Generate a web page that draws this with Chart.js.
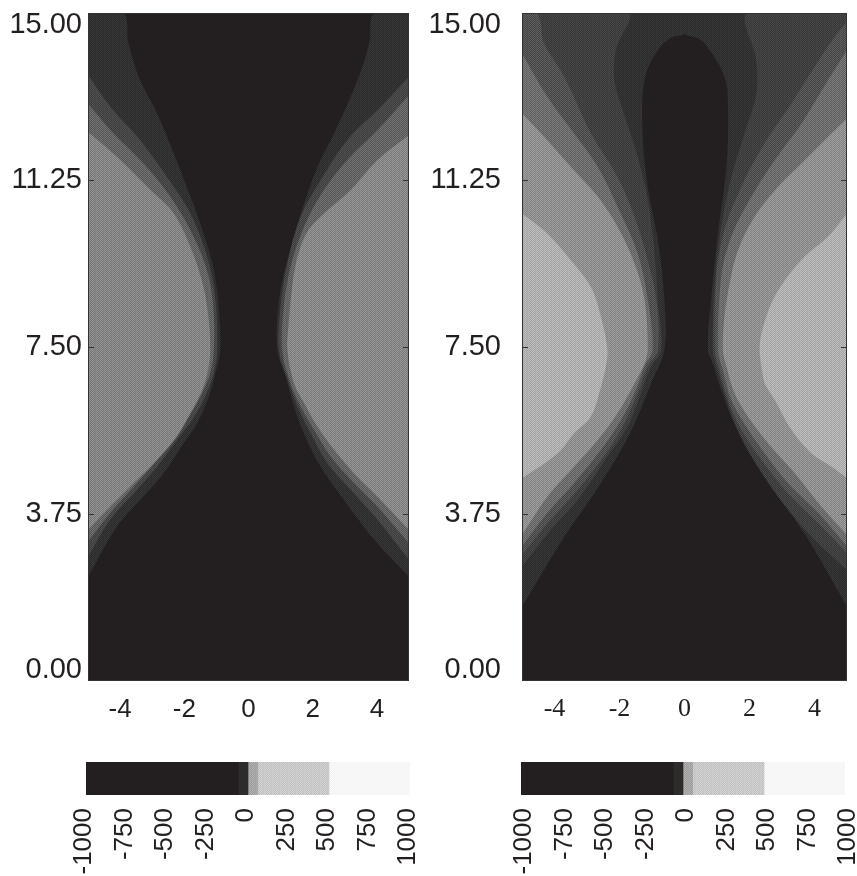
<!DOCTYPE html>
<html>
<head>
<meta charset="utf-8">
<script src="https://cdn.jsdelivr.net/npm/chart.js@4/dist/chart.umd.min.js"></script>
<style>
    body { margin: 0; background: #fff; width: 857px; height: 876px; overflow: hidden; position: relative; }
    canvas { position: absolute; }
</style>
</head>
<body>
<canvas id="panelLeft" width="430" height="740" style="left:0;top:0"></canvas>
<canvas id="panelRight" width="437" height="740" style="left:420px;top:0"></canvas>
<canvas id="barLeft" width="430" height="126" style="left:0;top:750px"></canvas>
<canvas id="barRight" width="437" height="126" style="left:420px;top:750px"></canvas>
<script>
// Axis ticks
const yTicks = [0, 3.75, 7.5, 11.25, 15];
const xTicks = [-4, -2, 0, 2, 4];
const barTicks = [-1000, -750, -500, -250, 0, 250, 500, 750, 1000];

// Left panel contours, each one [x, y] from top to bottom
const leftPanelWestA = [[-5,15],[-3.90,15],[-3.74,14.32],[-3.38,13.50],[-2.85,12.75],[-2.33,11.85],[-1.81,10.88],[-1.40,10.05],[-1.08,9.23],[-0.93,8.41],[-0.88,7.43],[-1.03,6.91],[-1.24,6.38],[-1.60,5.79],[-2.02,5.34],[-2.65,4.66],[-3.38,4.06],[-4.10,3.47],[-5,2.34]];
const leftPanelWestB = [[-5,13.61],[-4.31,12.90],[-3.38,12.15],[-2.54,11.32],[-1.81,10.50],[-1.29,9.53],[-1.03,8.56],[-0.98,7.43],[-1.08,6.91],[-1.40,6.31],[-1.76,5.86],[-2.23,5.41],[-2.85,4.81],[-3.58,4.21],[-4.31,3.62],[-5,2.79]];
const leftPanelWestC = [[-5,12.97],[-4.21,12.30],[-3.27,11.62],[-2.44,10.88],[-1.71,9.98],[-1.24,9.08],[-1.08,8.18],[-1.08,7.43],[-1.19,6.91],[-1.50,6.38],[-1.86,5.94],[-2.33,5.45],[-2.85,4.96],[-3.58,4.36],[-4.31,3.77],[-5,3.13]];
const leftPanelWestD = [[-5,12.33],[-4.10,11.77],[-3.06,11.03],[-2.33,10.50],[-1.81,9.75],[-1.40,8.85],[-1.24,8.11],[-1.19,7.43],[-1.24,7.06],[-1.40,6.61],[-1.81,6.01],[-2.23,5.49],[-2.85,4.96],[-3.58,4.44],[-4.31,3.91],[-5,3.39]];
const leftPanelEastA = [[5,15],[3.92,15],[3.76,14.32],[3.40,13.50],[2.67,12.30],[2.15,11.55],[1.63,10.50],[1.21,9.45],[0.95,8.56],[0.90,7.43],[1.16,6.83],[1.42,6.16],[1.73,5.56],[2.25,4.81],[2.98,4.06],[3.92,3.17],[5,2.34]];
const leftPanelEastB = [[5,13.57],[4.02,12.82],[3.08,12.15],[2.25,11.25],[1.63,10.43],[1.21,9.38],[1.00,8.41],[0.95,7.43],[1.26,6.68],[1.57,6.09],[1.94,5.56],[2.46,4.89],[3.19,4.29],[4.02,3.62],[5,2.72]];
const leftPanelEastC = [[5,13.16],[4.02,12.37],[3.08,11.70],[2.35,11.03],[1.73,10.20],[1.31,9.30],[1.10,8.41],[1.05,7.43],[1.31,6.68],[1.63,6.16],[2.04,5.64],[2.56,5.04],[3.29,4.44],[4.02,3.91],[5,3.09]];
const leftPanelEastD = [[5,12.26],[4.02,11.70],[3.19,11.03],[2.25,10.43],[1.80,10.05],[1.50,9.45],[1.36,8.85],[1.26,8.11],[1.21,7.43],[1.42,6.68],[1.73,6.24],[2.15,5.71],[2.67,5.19],[3.29,4.66],[4.02,4.14],[5,3.39]];

// Right panel contours
const rightPanelWestA = [[0,15],[0,14.54],[-0.40,14.45],[-0.82,14.17],[-1.23,13.50],[-1.29,12.30],[-1.13,11.10],[-0.82,9.90],[-0.62,8.56],[-0.62,7.43],[-1.03,6.68],[-1.44,5.94],[-1.95,5.19],[-2.78,4.21],[-3.70,3.24],[-5,1.67]];
const rightPanelEastA = [[0,15],[0,14.54],[0.35,14.45],[0.62,14.32],[1.23,13.57],[1.34,12.82],[1.29,11.55],[1.03,10.05],[0.82,8.56],[0.72,7.43],[0.87,7.13],[1.13,6.53],[1.44,5.94],[1.95,5.19],[2.78,4.29],[3.81,3.17],[5,1.67]];
const rightPanelWestB = [[-5,15],[-1.75,15],[-2.11,14.17],[-2.16,13.50],[-1.90,12.82],[-1.44,11.77],[-1.13,10.80],[-0.93,9.68],[-0.82,8.56],[-0.72,7.43],[-1.03,7.06],[-1.34,6.46],[-1.75,5.71],[-2.37,5.04],[-3.29,4.06],[-4.12,3.39],[-5,2.57]];
const rightPanelEastB = [[5,15],[1.95,15],[2.21,13.94],[2.21,13.19],[1.85,12.30],[1.44,11.32],[1.13,10.20],[0.93,8.93],[0.87,7.43],[0.98,7.06],[1.23,6.46],[1.54,5.79],[2.06,5.04],[2.88,4.14],[3.81,3.32],[5,2.49]];
const rightPanelWestC = [[-5,15],[-4.53,15],[-4.32,14.32],[-3.70,13.57],[-2.88,12.30],[-2.06,11.32],[-1.54,10.43],[-1.13,9.45],[-0.87,8.56],[-0.82,7.43],[-1.13,7.06],[-1.44,6.46],[-1.85,5.79],[-2.42,5.11],[-3.29,4.29],[-4.12,3.62],[-5,2.83]];
const rightPanelEastC = [[5,14.81],[4.63,14.47],[4.01,13.80],[3.29,12.97],[2.47,12.08],[1.75,11.10],[1.23,10.13],[0.98,9.08],[0.93,7.43],[1.08,6.98],[1.34,6.31],[1.75,5.64],[2.37,4.96],[3.19,4.21],[4.12,3.54],[5,2.87]];
const rightPanelWestD = [[-5,14.09],[-4.22,13.12],[-3.40,12.30],[-2.67,11.55],[-2.06,10.65],[-1.44,9.60],[-1.13,8.56],[-0.98,7.43],[-1.23,7.06],[-1.54,6.46],[-1.95,5.86],[-2.57,5.19],[-3.40,4.44],[-4.22,3.77],[-5,3.02]];
const rightPanelEastD = [[5,14.17],[4.42,13.50],[3.60,12.52],[2.78,11.70],[2.06,10.88],[1.44,9.98],[1.13,9.08],[1.03,7.43],[1.18,6.98],[1.44,6.31],[1.90,5.71],[2.47,5.11],[3.19,4.44],[4.12,3.77],[5,3.02]];
const rightPanelWestE = [[-5,12.75],[-4.32,12.22],[-3.50,11.55],[-2.67,10.88],[-2.06,10.20],[-1.54,9.38],[-1.23,8.56],[-1.13,7.43],[-1.23,7.13],[-1.54,6.68],[-2.06,6.01],[-2.67,5.41],[-3.40,4.81],[-4.22,4.14],[-5,3.28]];
const rightPanelEastE = [[5,12.63],[4.32,12.15],[3.60,11.62],[2.88,11.10],[2.16,10.43],[1.65,9.68],[1.39,8.93],[1.23,8.18],[1.18,7.43],[1.29,7.06],[1.54,6.46],[1.95,5.94],[2.57,5.34],[3.40,4.66],[4.22,3.91],[5,3.28]];
const rightPanelWestF = [[-5,10.50],[-4.22,10.05],[-3.50,9.45],[-2.88,8.85],[-2.57,8.18],[-2.37,7.43],[-2.42,7.06],[-2.57,6.61],[-2.88,5.94],[-3.40,5.56],[-3.91,5.11],[-5,4.55]];
const rightPanelEastF = [[5,10.50],[4.42,9.98],[3.70,9.53],[3.09,9.00],[2.67,8.48],[2.37,7.81],[2.31,7.43],[2.37,7.06],[2.47,6.68],[2.78,6.31],[3.29,5.64],[3.91,5.11],[4.53,4.81],[5,4.55]];

// Colour bar bands
const barBands = [[-1000, -60], [-60, 0], [0, 60], [60, 500], [500, 1000]];

const darkInk = '#231f20';
const textColor = '#231f20';

// Trama fina como la del original escaneado
function halftone(gray, c) {
    const tile = document.createElement('canvas');
    tile.width = 4;
    tile.height = 2;
    const t = tile.getContext('2d');
    const rows = [[c, -c, c / 2, -c], [-c, c, -c, c / 2]];
    rows.forEach((row, j) => row.forEach((d, i) => {
        const g = Math.max(0, Math.min(255, Math.round(gray + d)));
        t.fillStyle = 'rgb(' + g + ',' + g + ',' + g + ')';
        t.fillRect(i, j, 1, 1);
    }));
    return t.createPattern(tile, 'repeat');
}

function contour(pairs, color, side) {
    return {
        data: pairs.map(p => ({ x: p[0], y: p[1] })),
        backgroundColor: color,
        borderWidth: 0,
        pointRadius: 0,
        tension: 0.35,
        fill: { value: side }
    };
}

// Las etiquetas no deben empujar el area del grafico
function noTickPadding(s) {
    s.paddingTop = 0;
    s.paddingBottom = 0;
    s.paddingLeft = 0;
    s.paddingRight = 0;
}

// Fondo oscuro, marco y marcas hacia adentro
const framePlugin = {
    id: 'frame',
    beforeDatasetsDraw(chart) {
        const a = chart.chartArea;
        chart.ctx.fillStyle = darkInk;
        chart.ctx.fillRect(a.left, a.top, a.width, a.height);
    },
    afterDatasetsDraw(chart) {
        const a = chart.chartArea;
        const ctx = chart.ctx;
        ctx.save();
        ctx.strokeStyle = '#333';
        ctx.lineWidth = 1;
        ctx.strokeRect(a.left + 0.5, a.top + 0.5, a.width - 1, a.height - 1);
        yTicks.slice(1, -1).forEach(v => {
            const y = Math.round(chart.scales.y.getPixelForValue(v)) + 0.5;
            ctx.beginPath();
            ctx.moveTo(a.left, y);
            ctx.lineTo(a.left + 6, y);
            ctx.moveTo(a.right - 6, y);
            ctx.lineTo(a.right, y);
            ctx.stroke();
        });
        ctx.restore();
    }
};

function makePanel(id, datasets, yWidth, rightPad, yPad, xFont) {
    new Chart(document.getElementById(id), {
        type: 'line',
        data: { datasets: datasets },
        plugins: [framePlugin],
        options: {
            responsive: false,
            animation: false,
            indexAxis: 'y',
            layout: { padding: { top: 13, right: rightPad } },
            plugins: { legend: { display: false }, tooltip: { enabled: false } },
            scales: {
                x: {
                    type: 'linear',
                    min: -5,
                    max: 5,
                    afterFit: s => { s.height = 59; noTickPadding(s); },
                    afterBuildTicks: s => { s.ticks = xTicks.map(v => ({ value: v })); },
                    grid: { display: false, drawTicks: false },
                    border: { display: false },
                    ticks: { color: textColor, font: xFont, padding: 13, maxRotation: 0, autoSkip: false }
                },
                y: {
                    type: 'linear',
                    min: 0,
                    max: 15,
                    afterFit: s => { s.width = yWidth; noTickPadding(s); },
                    afterBuildTicks: s => { s.ticks = yTicks.map(v => ({ value: v })); },
                    grid: { display: false, drawTicks: false },
                    border: { display: false },
                    ticks: {
                        color: textColor,
                        padding: yPad,
                        autoSkip: false,
                        font: c => ({ family: 'Liberation Sans', size: 29, lineHeight: c.index === 0 ? '22px' : '24px' }),
                        // las etiquetas extremas quedan metidas hacia dentro
                        callback: function (v) {
                            const txt = Number(v).toFixed(2);
                            if (v === 15) return ['', txt];
                            if (v === 0) return [txt, ''];
                            return txt;
                        }
                    }
                }
            }
        }
    });
}

function makeBar(id, yWidth, rightPad, labelOffset) {
    const barColors = [darkInk, '#2e2b2b', halftone(168, 12), halftone(203, 12), halftone(247, 4)];
    new Chart(document.getElementById(id), {
        type: 'bar',
        data: {
            labels: [''],
            datasets: barBands.map((b, i) => ({ data: [b], backgroundColor: barColors[i], barPercentage: 1, categoryPercentage: 1, grouped: false }))
        },
        options: {
            responsive: false,
            animation: false,
            indexAxis: 'y',
            layout: { padding: { top: 12, right: rightPad } },
            plugins: { legend: { display: false }, tooltip: { enabled: false } },
            scales: {
                x: {
                    type: 'linear',
                    min: -1000,
                    max: 1000,
                    afterFit: s => { s.height = 81; noTickPadding(s); },
                    afterBuildTicks: s => { s.ticks = barTicks.map(v => ({ value: v })); },
                    grid: { display: false, drawTicks: false },
                    border: { display: false },
                    ticks: {
                        color: textColor,
                        font: { family: 'Liberation Sans', size: 26 },
                        padding: 13,
                        labelOffset: labelOffset,
                        minRotation: 90,
                        maxRotation: 90,
                        autoSkip: false,
                        callback: v => String(v)
                    }
                },
                y: {
                    afterFit: s => { s.width = yWidth; noTickPadding(s); },
                    grid: { display: false, drawTicks: false },
                    border: { display: false },
                    ticks: { display: false }
                }
            }
        }
    });
}

makePanel('panelLeft', [
    contour(leftPanelWestD, halftone(135, 16), -5),
    contour(leftPanelEastD, halftone(138, 16), 5),
    contour(leftPanelWestC, halftone(102, 14), -5),
    contour(leftPanelEastC, halftone(102, 14), 5),
    contour(leftPanelWestB, halftone(72, 12), -5),
    contour(leftPanelEastB, halftone(72, 12), 5),
    contour(leftPanelWestA, halftone(50, 8), -5),
    contour(leftPanelEastA, halftone(50, 8), 5)
], 88, 21, 6, { family: 'Liberation Sans', size: 26 });

makePanel('panelRight', [
    contour(rightPanelWestF, halftone(178, 16), -5),
    contour(rightPanelEastF, halftone(178, 16), 5),
    contour(rightPanelWestE, halftone(146, 16), -5),
    contour(rightPanelEastE, halftone(146, 16), 5),
    contour(rightPanelWestD, halftone(111, 16), -5),
    contour(rightPanelEastD, halftone(111, 16), 5),
    contour(rightPanelWestC, halftone(83, 14), -5),
    contour(rightPanelEastC, halftone(83, 14), 5),
    contour(rightPanelWestB, halftone(65, 12), -5),
    contour(rightPanelEastB, halftone(65, 12), 5),
    contour(rightPanelWestA, halftone(50, 8), -5),
    contour(rightPanelEastA, halftone(50, 8), 5)
], 102, 10, 21, { family: 'Liberation Serif', size: 26 });

makeBar('barLeft', 86, 20, -2);
makeBar('barRight', 101, 12, 3);
</script>
</body>
</html>
